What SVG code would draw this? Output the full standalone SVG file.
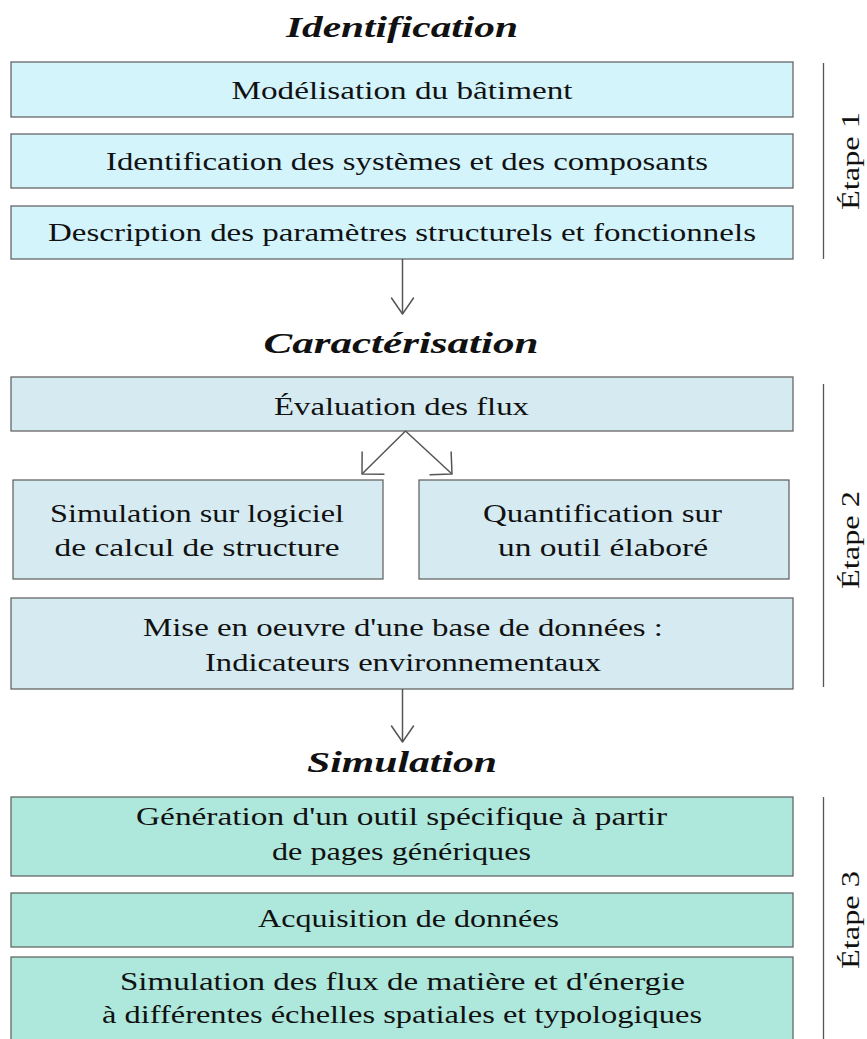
<svg xmlns="http://www.w3.org/2000/svg" width="867" height="1039" viewBox="0 0 867 1039">
  <style>
    text { font-family: "Liberation Serif", "Times New Roman", serif; fill: #111; }
    .t { font-size: 26px; text-anchor: middle; }
    .h { font-size: 29px; font-weight: bold; font-style: italic; text-anchor: middle; }
    .box { stroke: #5a5a5a; stroke-width: 1.2; }
    .s1 { fill: #d4f4fc; }
    .s2 { fill: #d6ebf1; }
    .s3 { fill: #aee8dc; }
    .conn { stroke: #555; stroke-width: 1.5; fill: none; }
    .step { stroke: #555; stroke-width: 1.3; }
    .arr { fill: none; stroke: #555; stroke-width: 1.5; stroke-linecap: round; stroke-linejoin: round; }
  </style>
  <defs>
    <marker id="v" markerUnits="userSpaceOnUse" viewBox="-20 -14 22 28" refX="0" refY="0" markerWidth="22" markerHeight="28" orient="auto" overflow="visible">
      <path class="arr" d="M -16 -11 L 0 0 L -16 11"/>
    </marker>
    <marker id="d" markerUnits="userSpaceOnUse" viewBox="-20 -18 22 36" refX="0" refY="0" markerWidth="22" markerHeight="36" orient="auto" overflow="visible">
      <path class="arr" d="M -15.5 -15.5 L 0 0 L -15.5 15.5"/>
    </marker>
  </defs>

  <!-- Section titles -->
  <g id="title-identification">
    <text class="h" x="402" y="37" textLength="232" lengthAdjust="spacingAndGlyphs">Identification</text>
  </g>
  <g id="title-caracterisation">
    <text class="h" x="401" y="353" textLength="275" lengthAdjust="spacingAndGlyphs">Caractérisation</text>
  </g>
  <g id="title-simulation">
    <text class="h" x="402" y="772" textLength="190" lengthAdjust="spacingAndGlyphs">Simulation</text>
  </g>

  <!-- Stage 1 -->
  <g id="n-modelisation">
    <rect class="box s1" x="11" y="62" width="782" height="55"/>
    <text class="t" x="402" y="99" textLength="341" lengthAdjust="spacingAndGlyphs">Modélisation du bâtiment</text>
  </g>
  <g id="n-identification">
    <rect class="box s1" x="11" y="134" width="782" height="54"/>
    <text class="t" x="407" y="170" textLength="602" lengthAdjust="spacingAndGlyphs">Identification des systèmes et des composants</text>
  </g>
  <g id="n-description">
    <rect class="box s1" x="11" y="206" width="782" height="53"/>
    <text class="t" x="402" y="241" textLength="708" lengthAdjust="spacingAndGlyphs">Description des paramètres structurels et fonctionnels</text>
  </g>

  <!-- Stage 2 -->
  <g id="n-evaluation">
    <rect class="box s2" x="11" y="377" width="782" height="54"/>
    <text class="t" x="401.5" y="415" textLength="255" lengthAdjust="spacingAndGlyphs">Évaluation des flux</text>
  </g>
  <g id="n-simulation-logiciel">
    <rect class="box s2" x="13" y="480" width="370" height="99"/>
    <text class="t" x="197" y="522" textLength="294" lengthAdjust="spacingAndGlyphs">Simulation sur logiciel</text>
    <text class="t" x="197" y="556" textLength="285" lengthAdjust="spacingAndGlyphs">de calcul de structure</text>
  </g>
  <g id="n-quantification">
    <rect class="box s2" x="419" y="480" width="370" height="99"/>
    <text class="t" x="602.5" y="522" textLength="239" lengthAdjust="spacingAndGlyphs">Quantification sur</text>
    <text class="t" x="603" y="556" textLength="210" lengthAdjust="spacingAndGlyphs">un outil élaboré</text>
  </g>
  <g id="n-base-donnees">
    <rect class="box s2" x="11" y="598" width="782" height="91"/>
    <text class="t" x="403" y="636" textLength="520" lengthAdjust="spacingAndGlyphs">Mise en oeuvre d'une base de données :</text>
    <text class="t" x="403" y="671" textLength="396" lengthAdjust="spacingAndGlyphs">Indicateurs environnementaux</text>
  </g>

  <!-- Stage 3 -->
  <g id="n-generation">
    <rect class="box s3" x="11" y="797" width="782" height="79"/>
    <text class="t" x="401.5" y="825" textLength="531" lengthAdjust="spacingAndGlyphs">Génération d'un outil spécifique à partir</text>
    <text class="t" x="401.5" y="860" textLength="259" lengthAdjust="spacingAndGlyphs">de pages génériques</text>
  </g>
  <g id="n-acquisition">
    <rect class="box s3" x="11" y="893" width="782" height="54"/>
    <text class="t" x="408.5" y="927" textLength="301" lengthAdjust="spacingAndGlyphs">Acquisition de données</text>
  </g>
  <g id="n-simulation-flux">
    <rect class="box s3" x="11" y="957" width="782" height="100"/>
    <text class="t" x="402.5" y="990" textLength="565" lengthAdjust="spacingAndGlyphs">Simulation des flux de matière et d'énergie</text>
    <text class="t" x="402" y="1023" textLength="600" lengthAdjust="spacingAndGlyphs">à différentes échelles spatiales et typologiques</text>
  </g>

  <!-- Stage brackets -->
  <g id="etape-1">
    <line class="step" x1="823.5" y1="63" x2="823.5" y2="259"/>
    <text class="t" transform="translate(859 161) rotate(-90)" x="0" y="0" textLength="98" lengthAdjust="spacingAndGlyphs">Étape 1</text>
  </g>
  <g id="etape-2">
    <line class="step" x1="823.5" y1="384" x2="823.5" y2="687"/>
    <text class="t" transform="translate(859 540) rotate(-90)" x="0" y="0" textLength="98" lengthAdjust="spacingAndGlyphs">Étape 2</text>
  </g>
  <g id="etape-3">
    <line class="step" x1="823.5" y1="797" x2="823.5" y2="1045"/>
    <text class="t" transform="translate(859 920) rotate(-90)" x="0" y="0" textLength="98" lengthAdjust="spacingAndGlyphs">Étape 3</text>
  </g>

  <!-- Connectors -->
  <g id="connectors">
    <line class="conn" x1="402.5" y1="259" x2="402.5" y2="314" marker-end="url(#v)"/>
    <line class="conn" x1="405.5" y1="431" x2="362" y2="474" marker-end="url(#d)"/>
    <line class="conn" x1="405.5" y1="431" x2="452" y2="474" marker-end="url(#d)"/>
    <line class="conn" x1="402.5" y1="689" x2="402.5" y2="742" marker-end="url(#v)"/>
  </g>
</svg>
